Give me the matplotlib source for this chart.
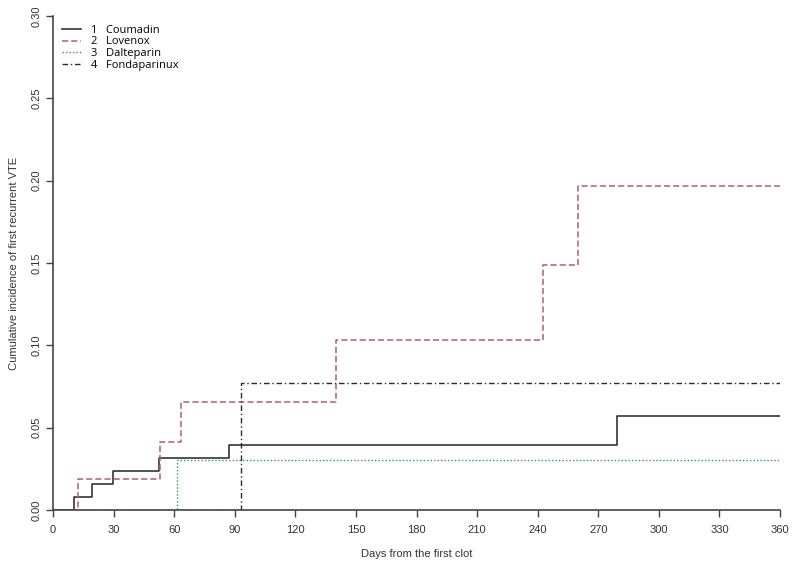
import matplotlib
matplotlib.use("Agg")
import matplotlib.pyplot as plt

plt.rcParams['font.family'] = ['Liberation Sans Narrow', 'Liberation Sans', 'DejaVu Sans']

# step times (days) and cumulative incidence levels
coumadin_t = [0, 10.4, 19.2, 29.9, 52.7, 87.2, 279.3, 360]
coumadin_y = [0, 0.0079, 0.0157, 0.0236, 0.0315, 0.0394, 0.057, 0.057]

lovenox_t = [0, 12.2, 53.0, 63.2, 140.2, 242.7, 260.0, 360]
lovenox_y = [0, 0.019, 0.041, 0.0656, 0.103, 0.149, 0.197, 0.197]

dalteparin_t = [0, 61.2, 360]
dalteparin_y = [0, 0.0302, 0.0302]

fonda_t = [0, 93.3, 360]
fonda_y = [0, 0.077, 0.077]

labels = ["1   Coumadin", "2   Lovenox", "3   Dalteparin", "4   Fondaparinux"]

x_ticks = list(range(0, 361, 30))
y_ticks = [0.00, 0.05, 0.10, 0.15, 0.20, 0.25, 0.30]

fig = plt.figure(figsize=(8, 5.63), dpi=100)
ax = fig.add_axes([53 / 800, 53 / 563, 727 / 800, 494 / 563])

ax.step(coumadin_t, coumadin_y, where="post", color="#333333", lw=1.2,
        linestyle="-", label=labels[0], zorder=2)
ax.step(lovenox_t, lovenox_y, where="post", color="#b06068", lw=1.1,
        linestyle=(0, (4, 2)), label=labels[1], zorder=2)
ax.step(dalteparin_t, dalteparin_y, where="post", color="#3c9a3c", lw=1.0,
        linestyle=(0, (1, 1.5)), label=labels[2], zorder=2)
ax.step(fonda_t, fonda_y, where="post", color="#2a2a3a", lw=1.0,
        linestyle=(0, (4, 2, 1, 2)), label=labels[3], zorder=2)

ax.set_xlim(0, 360)
ax.set_ylim(0, 0.30)
ax.set_xticks(x_ticks)
ax.set_xticklabels([str(v) for v in x_ticks])
ax.set_yticks(y_ticks)
ax.set_yticklabels([f"{v:.2f}" for v in y_ticks], rotation=90, va="center")

for s in ["top", "right"]:
    ax.spines[s].set_visible(False)
for s in ["left", "bottom"]:
    ax.spines[s].set_color("#444444")
    ax.spines[s].set_linewidth(1.2)
    ax.spines[s].set_zorder(5)

ax.tick_params(direction="out", length=5, width=1.0, color="#444444",
               labelsize=8, labelcolor="#333333")
ax.tick_params(axis="y", pad=3)
ax.tick_params(axis="x", pad=6)

ax.set_xlabel("Days from the first clot", fontsize=8, color="#333333", labelpad=10)
ax.set_ylabel("Cumulative incidence of first recurrent VTE", fontsize=8,
              color="#333333", labelpad=9)

leg = ax.legend(loc="upper left", bbox_to_anchor=(0.0, 1.0), frameon=False,
                handlelength=1.7, labelspacing=0.05, handletextpad=0.9,
                borderaxespad=0.4, prop={'family': ['Open Sans', 'DejaVu Sans'], 'size': 8})

fig.savefig("out.png", dpi=100, facecolor="white")
